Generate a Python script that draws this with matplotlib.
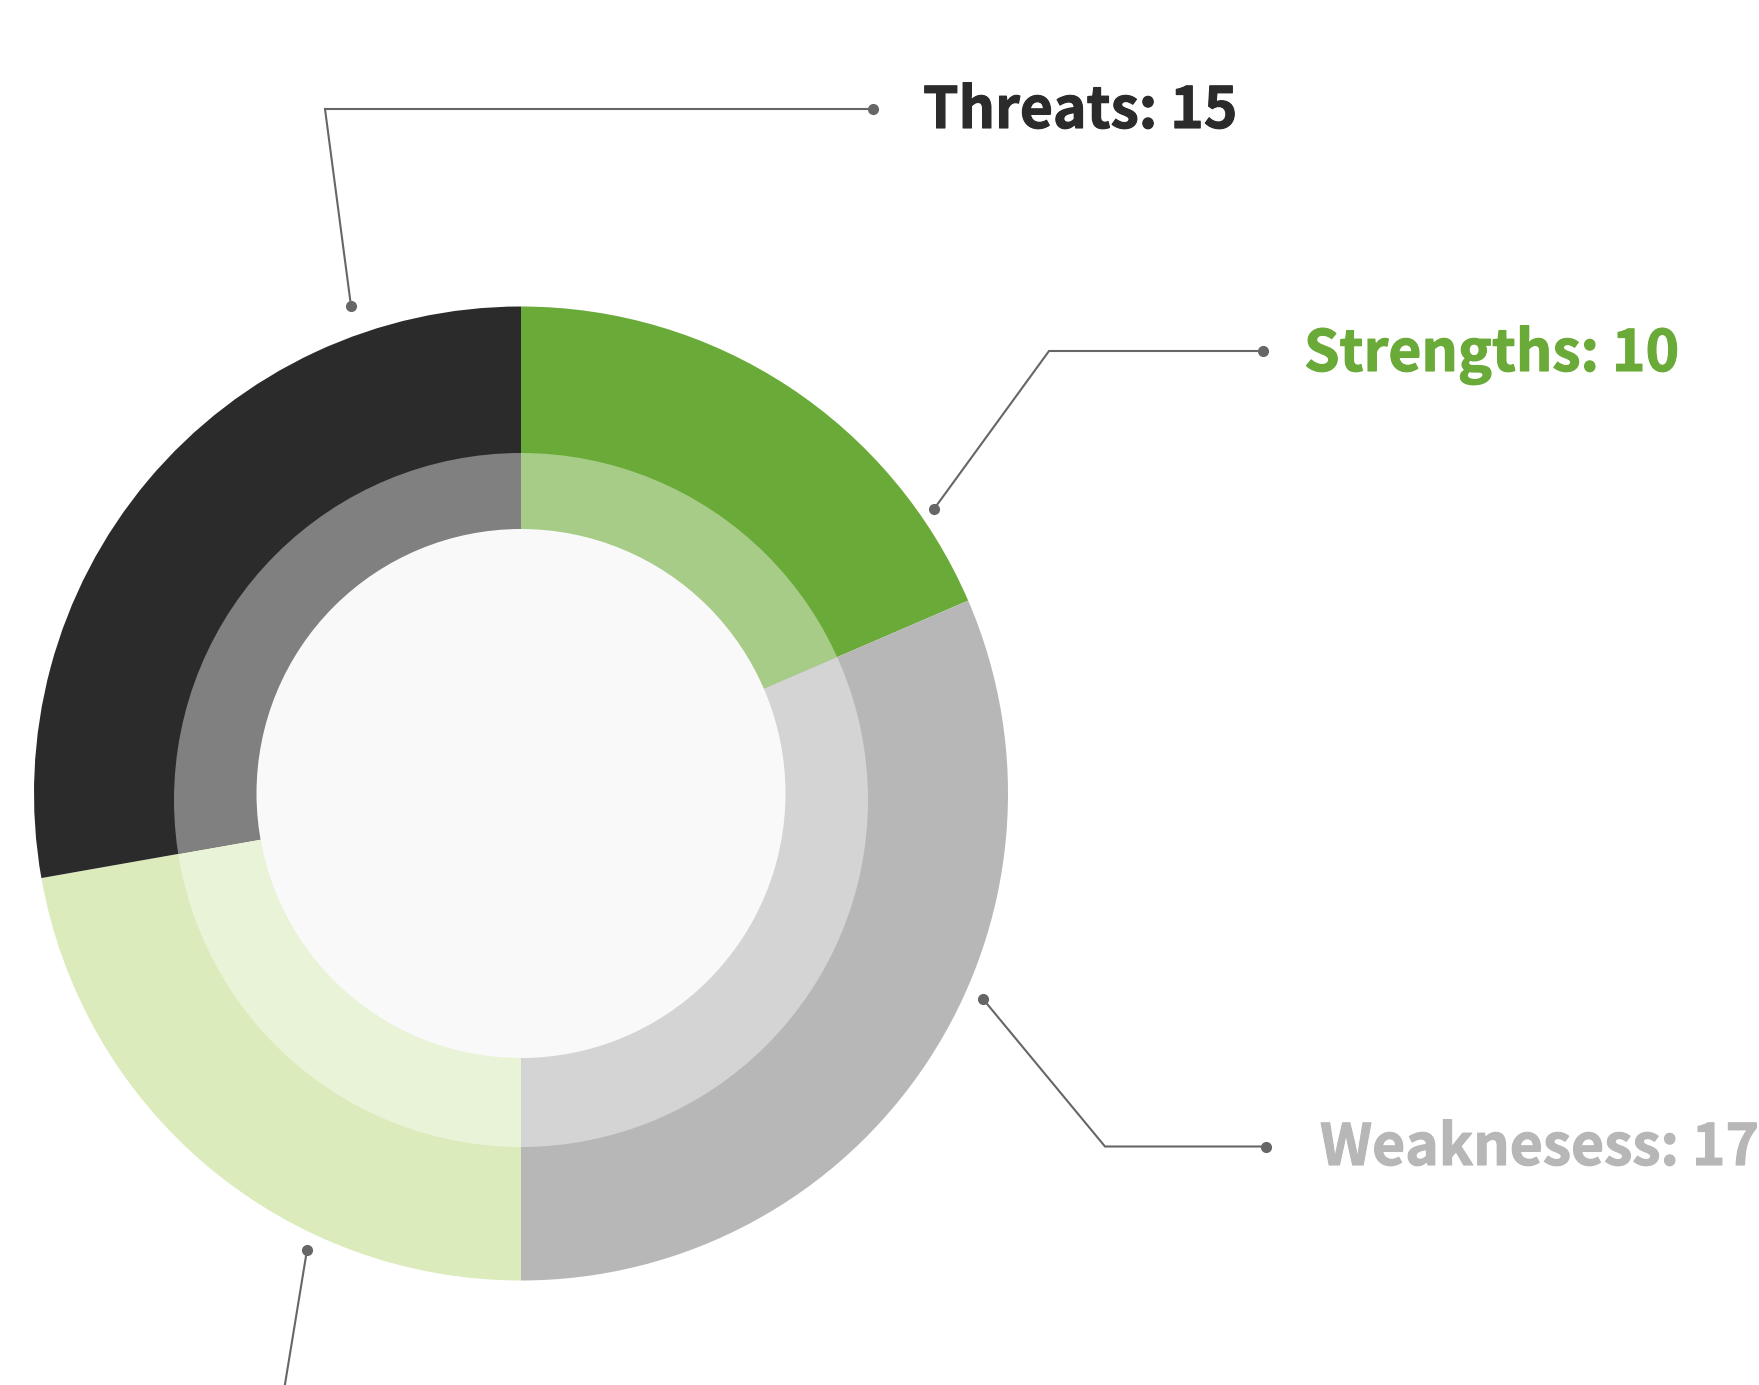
import matplotlib
matplotlib.use('Agg')
import matplotlib.pyplot as plt
import matplotlib.patheffects as pe
from matplotlib.patches import Circle
from matplotlib.colors import to_rgb

# ---- data ----
categories = ['Strengths', 'Weaknesess', 'Opportunities', 'Threats']
values = [10, 17, 12, 15]
outer_colors = ['#6aaa38', '#b7b7b7', '#dbebbc', '#2b2b2b']
label_colors = ['#6aaa38', '#b7b7b7', '#c8dfa3', '#2b2b2b']

# ---- layout (pixel coordinates, y downward) ----
W, H = 1759, 1385
CENTER = (521, 793.5)
R_OUT = 487
INNER_RING_CENTER = (521, 800)
R_MID = 347
R_HOLE = 264.5
# callouts: pie point, bend, end dot, text start x, text baseline y (None = label outside canvas)
callouts = {
    'Threats': ((351, 306), (325, 109), (873, 109), 923, 128),
    'Strengths': ((934, 509), (1049, 351), (1263, 351), 1304, 371),
    'Weaknesess': ((983, 999), (1105, 1146.5), (1266, 1146.5), 1320, 1165),
    'Opportunities': ((307, 1250), (266, 1500), (740, 1500), None, None),
}

plt.rcParams['font.family'] = ['Noto Sans CJK SC', 'DejaVu Sans']

fig = plt.figure(figsize=(W / 100, H / 100), dpi=100)
fig.patch.set_facecolor('white')
ax = fig.add_axes([0, 0, 1, 1])


def P(x, y):
    return (x, H - y)


def lighten(c, a=0.6):
    r, g, b = to_rgb(c)
    return (1 - a + a * r, 1 - a + a * g, 1 - a + a * b)


cx, cy = P(*CENTER)
wedges, _ = ax.pie(values, colors=outer_colors, radius=R_OUT, center=(cx, cy),
                   startangle=90, counterclock=False,
                   wedgeprops=dict(linewidth=0))
inner_colors = [lighten(c) for c in outer_colors]
wedges2, _ = ax.pie(values, colors=inner_colors, radius=R_OUT, center=(cx, cy),
                    startangle=90, counterclock=False,
                    wedgeprops=dict(linewidth=0))
clip = Circle(P(*INNER_RING_CENTER), R_MID, facecolor='none', edgecolor='none')
ax.add_patch(clip)
clip.set_visible(False)
for w in wedges2:
    w.set_clip_path(clip)
    w.set_clip_on(True)
ax.add_patch(Circle((cx, cy), R_HOLE, facecolor='#f9f9f9', edgecolor='none', zorder=5))

line_color = '#666666'
for cat, val, col in zip(categories, values, label_colors):
    p0, p1, p2, tx, ty = callouts[cat]
    xs, ys = zip(P(*p0), P(*p1), P(*p2))
    ax.plot(xs, ys, color=line_color, lw=1.5, zorder=6, solid_joinstyle='miter')
    ax.plot([xs[0], xs[2]], [ys[0], ys[2]], 'o', color=line_color, ms=7, zorder=7)
    if tx is not None:
        ax.text(*P(tx, ty), f'{cat}: {val}', color=col, fontsize=41, fontweight='bold',
                ha='left', va='baseline', zorder=8,
                path_effects=[pe.withStroke(linewidth=0.8, foreground=col)])

ax.set_xlim(0, W)
ax.set_ylim(0, H)
ax.set_aspect('equal')
ax.axis('off')
fig.savefig('out.png', dpi=100, facecolor='white')
